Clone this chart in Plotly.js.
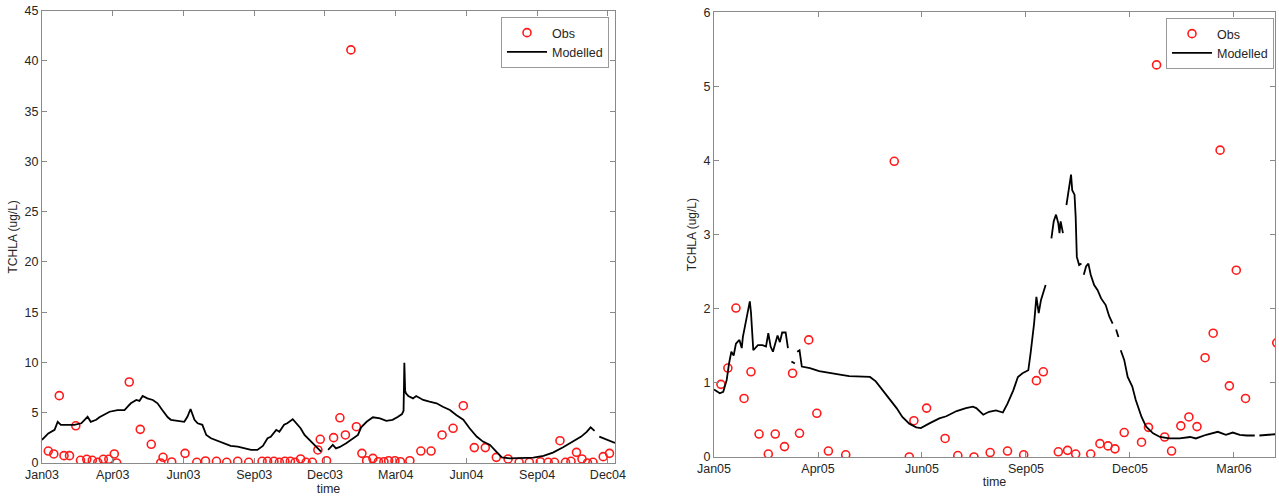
<!DOCTYPE html>
<html>
<head>
<meta charset="utf-8">
<script src="https://cdn.plot.ly/plotly-3.0.1.min.js"></script>
<style>
  html, body { margin: 0; padding: 0; background: #ffffff; }
  #chart { width: 1279px; height: 497px; }
</style>
</head>
<body>
<div id="chart"></div>
<script>
// ---- Station 1: 2003-2004 ----
const obs1Dates = [
  '2003-01-09','2003-01-16','2003-01-23','2003-01-29','2003-02-05','2003-02-13','2003-02-19','2003-02-27',
  '2003-03-06','2003-03-13','2003-03-20','2003-03-27','2003-04-03','2003-04-06','2003-04-22','2003-05-06',
  '2003-05-20','2003-06-01','2003-06-04','2003-06-15','2003-07-02','2003-07-17','2003-07-28','2003-08-11',
  '2003-08-24','2003-09-07','2003-09-21','2003-10-08','2003-10-15','2003-10-23','2003-10-30','2003-11-06',
  '2003-11-13','2003-11-19','2003-11-26','2003-12-03','2003-12-11','2003-12-18','2003-12-21','2003-12-29',
  '2004-01-07','2004-01-15','2004-01-22','2004-01-29','2004-02-05','2004-02-12','2004-02-18','2004-02-26',
  '2004-03-04','2004-03-11','2004-03-17','2004-03-25','2004-04-01','2004-04-13','2004-04-27','2004-05-10',
  '2004-05-24','2004-06-07','2004-06-20','2004-07-04','2004-07-18','2004-08-01','2004-08-16','2004-08-30',
  '2004-09-12','2004-09-26','2004-10-06','2004-10-14','2004-10-21','2004-10-28','2004-11-04','2004-11-11',
  '2004-11-18','2004-11-25','2004-12-02','2004-12-15','2004-12-23'
];
const obs1Vals = [
  1.19, 0.90, 6.70, 0.73, 0.73, 3.70, 0.27, 0.37,
  0.27, 0.07, 0.37, 0.37, 0.90, 0.00, 8.06, 3.35,
  1.86, 0.00, 0.57, 0.10, 0.96, 0.07, 0.20, 0.17,
  0.07, 0.17, 0.07, 0.17, 0.17, 0.17, 0.07, 0.17,
  0.17, 0.07, 0.40, 0.07, 0.07, 1.30, 2.36, 0.23,
  2.52, 4.50, 2.79, 41.1, 3.61, 0.96, 0.23, 0.46,
  0.13, 0.13, 0.23, 0.23, 0.13, 0.23, 1.19, 1.19,
  2.79, 3.45, 5.70, 1.53, 1.53, 0.56, 0.40, 0.07,
  0.07, 0.13, 0.07, 0.07, 2.22, 0.07, 0.17, 1.06,
  0.40, 0.00, 0.07, 0.63, 0.96
];

const mod1Dates = [
  '2003-01-01','2003-01-09','2003-01-17','2003-01-21','2003-01-25','2003-02-03','2003-02-11','2003-02-20',
  '2003-02-24','2003-02-28','2003-03-04','2003-03-11','2003-03-15','2003-03-21','2003-03-28','2003-04-07',
  '2003-04-16','2003-04-20','2003-04-24','2003-05-01','2003-05-05','2003-05-09','2003-05-15','2003-05-22',
  '2003-05-28','2003-06-03','2003-06-10','2003-06-14','2003-06-23','2003-07-01','2003-07-05','2003-07-09',
  '2003-07-14','2003-07-18','2003-07-24','2003-07-29','2003-08-04','2003-08-12','2003-08-21','2003-08-29',
  '2003-09-07','2003-09-15','2003-09-24','2003-10-02','2003-10-09','2003-10-15','2003-10-19','2003-10-26',
  '2003-10-30','2003-11-05','2003-11-09','2003-11-16','2003-11-20','2003-11-26','2003-12-01','2003-12-09',
  '2003-12-18','2003-12-22','2003-12-25','2003-12-31','2004-01-06','2004-01-10','2004-01-15','2004-01-23',
  '2004-02-01','2004-02-07','2004-02-11','2004-02-18','2004-02-26','2004-03-06','2004-03-14','2004-03-22',
  '2004-03-29','2004-04-03','2004-04-05','2004-04-06','2004-04-07','2004-04-08','2004-04-11','2004-04-17',
  '2004-04-21','2004-04-30','2004-05-08','2004-05-17','2004-05-25','2004-06-03','2004-06-11','2004-06-20',
  '2004-06-28','2004-07-07','2004-07-15','2004-07-24','2004-08-01','2004-08-08','2004-08-18','2004-08-31',
  '2004-09-17','2004-09-30','2004-10-12','2004-10-25','2004-11-07','2004-11-17','2004-11-24','2004-11-29',
  '2004-12-04','2004-12-07','2004-12-10','2004-12-19','2004-12-30'
];
const mod1Vals = [
  2.30, 2.95, 3.30, 4.10, 3.80, 3.80, 3.80, 3.95,
  4.30, 4.60, 4.10, 4.30, 4.55, 4.80, 5.10, 5.27,
  5.27, 5.60, 5.94, 6.27, 6.17, 6.67, 6.43, 6.27,
  5.94, 5.27, 4.55, 4.30, 4.20, 4.10, 4.60, 5.37,
  4.30, 3.95, 3.80, 2.79, 2.46, 2.23, 1.96, 1.70,
  1.63, 1.46, 1.30, 1.30, 1.70, 2.46, 2.60, 3.30,
  3.10, 3.80, 3.95, 4.35, 3.95, 3.46, 2.79, 2.13,
  1.46, 1.13, null, 1.30, 1.80, 1.46, 1.60, 1.96,
  2.46, 2.79, 3.55, 4.10, 4.55, 4.44, 4.20, 4.30,
  4.60, 4.87, 5.20, 9.98, 7.20, 6.93, 6.67, 6.43,
  6.67, 6.27, 6.10, 5.94, 5.60, 5.27, 4.77, 4.30,
  3.46, 2.63, 2.13, 1.80, 1.13, 0.56, 0.46, 0.46,
  0.53, 0.70, 1.03, 1.56, 2.13, 2.63, 3.10, 3.55,
  3.20, null, 2.63, 2.36, 2.00
];

const tick1Dates = ['2003-01-01','2003-04-01','2003-06-30','2003-09-28','2003-12-27',
                    '2004-03-26','2004-06-24','2004-09-22','2004-12-21'];
const tick1Labels = ['Jan03','Apr03','Jun03','Sep03','Dec03','Mar04','Jun04','Sep04','Dec04'];
const yTicks1 = [0, 5, 10, 15, 20, 25, 30, 35, 40, 45];

// ---- Station 2: 2005-2006 ----
const obs2Dates = [
  '2005-01-07','2005-01-13','2005-01-20','2005-01-27','2005-02-02','2005-02-09','2005-02-17','2005-02-23',
  '2005-03-03','2005-03-10','2005-03-16','2005-03-24','2005-03-31','2005-04-10','2005-04-25','2005-06-06',
  '2005-06-19','2005-06-23','2005-07-04','2005-07-20','2005-07-31','2005-08-14','2005-08-28','2005-09-12',
  '2005-09-26','2005-10-07','2005-10-13','2005-10-26','2005-11-03','2005-11-10','2005-11-23','2005-12-01',
  '2005-12-08','2005-12-14','2005-12-22','2006-01-06','2006-01-12','2006-01-19','2006-01-26','2006-02-01',
  '2006-02-09','2006-02-16','2006-02-23','2006-03-02','2006-03-09','2006-03-15','2006-03-23','2006-03-29',
  '2006-04-06','2006-05-03'
];
const obs2Vals = [
  0.98, 1.20, 2.01, 0.79, 1.15, 0.31, 0.04, 0.31,
  0.14, 1.13, 0.32, 1.58, 0.59, 0.08, 0.03, 3.99,
  0.00, 0.49, 0.66, 0.25, 0.02, 0.00, 0.06, 0.08,
  0.03, 1.03, 1.15, 0.07, 0.09, 0.04, 0.04, 0.18,
  0.15, 0.11, 0.33, 0.20, 0.40, 5.29, 0.27, 0.08,
  0.42, 0.54, 0.41, 1.34, 1.67, 4.14, 0.96, 2.52,
  0.79, 1.54
];

const mod2Dates = [
  '2005-01-01','2005-01-06','2005-01-09','2005-01-12','2005-01-14','2005-01-16','2005-01-18','2005-01-20',
  '2005-01-23','2005-01-25','2005-01-26','2005-01-29','2005-02-01','2005-02-02','2005-02-04','2005-02-08',
  '2005-02-12','2005-02-15','2005-02-17','2005-02-19','2005-02-21','2005-02-23','2005-02-25','2005-02-27',
  '2005-03-01','2005-03-04','2005-03-06','2005-03-07','2005-03-09','2005-03-12','2005-03-13','2005-03-14',
  '2005-03-16','2005-03-18','2005-03-25','2005-04-02','2005-04-11','2005-04-20','2005-04-28','2005-05-10',
  '2005-05-16','2005-05-21','2005-05-27','2005-06-02','2005-06-08','2005-06-13','2005-06-19','2005-06-25',
  '2005-06-29','2005-07-06','2005-07-15','2005-07-21','2005-07-30','2005-08-07','2005-08-13','2005-08-16',
  '2005-08-22','2005-08-27','2005-09-02','2005-09-08','2005-09-12','2005-09-17','2005-09-21','2005-09-25',
  '2005-09-30','2005-10-02','2005-10-05','2005-10-07','2005-10-09','2005-10-11','2005-10-15','2005-10-17',
  '2005-10-20','2005-10-22','2005-10-24','2005-10-26','2005-10-27','2005-10-28','2005-10-30','2005-10-31',
  '2005-11-02','2005-11-04','2005-11-06','2005-11-07','2005-11-09','2005-11-10','2005-11-11','2005-11-13',
  '2005-11-15','2005-11-16','2005-11-17','2005-11-19','2005-11-21','2005-11-23','2005-11-26','2005-11-29',
  '2005-12-02','2005-12-06','2005-12-09','2005-12-12','2005-12-14','2005-12-15','2005-12-17','2005-12-18',
  '2005-12-19','2005-12-22','2005-12-25','2005-12-29','2006-01-01','2006-01-06','2006-01-10','2006-01-16',
  '2006-01-22','2006-01-30','2006-02-08','2006-02-17','2006-02-22','2006-03-03','2006-03-13','2006-03-20',
  '2006-03-26','2006-04-01','2006-04-07','2006-04-14','2006-04-15','2006-04-18','2006-04-27','2006-05-04'
];
const mod2Vals = [
  0.91, 0.86, 0.88, 1.04, 1.26, 1.42, 1.37, 1.53,
  1.58, 1.47, 1.62, 1.85, 2.10, 1.95, 1.44, 1.51,
  1.51, 1.49, 1.67, 1.49, 1.42, 1.53, 1.64, 1.55,
  1.68, 1.68, 1.47, null, 1.29, 1.26, null, 1.42,
  1.44, 1.22, 1.20, 1.16, 1.13, 1.11, 1.09, 1.09,
  1.08, 1.02, 0.90, 0.79, 0.66, 0.54, 0.45, 0.40,
  0.39, 0.45, 0.52, 0.55, 0.62, 0.66, 0.68, 0.66,
  0.57, 0.61, 0.63, 0.60, 0.72, 0.90, 1.08, 1.13,
  1.17, 1.40, 1.80, 2.16, 1.94, 2.12, 2.32, null,
  2.95, 3.18, 3.27, 3.15, 3.02, 3.18, 3.02, null,
  3.40, 3.60, 3.81, 3.60, 3.54, 3.24, 2.70, 2.59,
  2.61, null, 2.46, 2.57, 2.61, 2.46, 2.32, 2.25,
  2.14, 2.05, 1.90, 1.80, null, 1.72, 1.62, null,
  1.44, 1.31, 1.08, 0.95, 0.77, 0.54, 0.41, 0.32,
  0.27, 0.25, 0.25, 0.27, 0.25, 0.30, 0.34, 0.30,
  0.33, 0.30, 0.29, 0.29, null, 0.29, 0.30, 0.31
];

const tick2Dates = ['2005-01-01','2005-04-01','2005-06-30','2005-09-28','2005-12-27','2006-03-27'];
const tick2Labels = ['Jan05','Apr05','Jun05','Sep05','Dec05','Mar06'];
const yTicks2 = [0, 1, 2, 3, 4, 5, 6];

// ---- Drawing ----
const W = 1279, H = 497;
const FONT = 'Liberation Sans, Arial, sans-serif';
const TEXT = '#262626';
const FRAME = '#8a8a8a';

const obsStyle = { symbol: 'circle-open', size: 8, color: '#ff1a1a', line: { width: 1.6, color: '#ff1a1a' } };
const modStyle = { color: '#000000', width: 1.8 };

const traces = [
  { x: obs1Dates, y: obs1Vals, type: 'scatter', mode: 'markers', name: 'Obs',
    marker: obsStyle, xaxis: 'x', yaxis: 'y', legend: 'legend' },
  { x: mod1Dates, y: mod1Vals, type: 'scatter', mode: 'lines', name: 'Modelled',
    line: modStyle, connectgaps: false, xaxis: 'x', yaxis: 'y', legend: 'legend' },
  { x: obs2Dates, y: obs2Vals, type: 'scatter', mode: 'markers', name: 'Obs',
    marker: obsStyle, xaxis: 'x2', yaxis: 'y2', legend: 'legend2' },
  { x: mod2Dates, y: mod2Vals, type: 'scatter', mode: 'lines', name: 'Modelled',
    line: modStyle, connectgaps: false, xaxis: 'x2', yaxis: 'y2', legend: 'legend2' }
];

function xAxis(domain, range, vals, labels, anchor) {
  return {
    domain: domain, range: range, type: 'date', anchor: anchor,
    tickmode: 'array', tickvals: vals, ticktext: labels,
    ticks: 'inside', ticklen: 5, tickcolor: FRAME, tickwidth: 1,
    showline: true, linecolor: FRAME, linewidth: 1, mirror: 'ticks',
    showgrid: false, zeroline: false,
    tickfont: { family: FONT, size: 12.5, color: TEXT },
    title: { text: 'time', font: { family: FONT, size: 12.5, color: TEXT }, standoff: 2 }
  };
}
function yAxis(domain, range, vals, anchor) {
  return {
    domain: domain, range: range, anchor: anchor,
    tickmode: 'array', tickvals: vals,
    ticks: 'inside', ticklen: 5, tickcolor: FRAME, tickwidth: 1,
    showline: true, linecolor: FRAME, linewidth: 1, mirror: 'ticks',
    showgrid: false, zeroline: false,
    tickfont: { family: FONT, size: 12.5, color: TEXT },
    title: { text: 'TCHLA (ug/L)', font: { family: FONT, size: 12, color: TEXT }, standoff: 4 }
  };
}

const legendBase = {
  bgcolor: '#ffffff', bordercolor: '#999999', borderwidth: 1,
  font: { family: FONT, size: 12.5, color: TEXT },
  xanchor: 'left', yanchor: 'top', tracegroupgap: 0, itemwidth: 40
};

const layout = {
  width: W, height: H,
  margin: { l: 0, r: 0, t: 0, b: 0 },
  paper_bgcolor: '#ffffff', plot_bgcolor: '#ffffff',
  showlegend: true,
  xaxis: xAxis([42 / W, 615 / W], ['2003-01-01', '2004-12-30'], tick1Dates, tick1Labels, 'y'),
  yaxis: yAxis([1 - 463 / H, 1 - 10.7 / H], [0, 45], yTicks1, 'x'),
  xaxis2: xAxis([714 / W, 1275 / W], ['2005-01-01', '2006-05-01 12:00'], tick2Dates, tick2Labels, 'y2'),
  yaxis2: yAxis([1 - 457 / H, 1 - 12.3 / H], [0, 6], yTicks2, 'x2'),
  legend: Object.assign({}, legendBase, { x: 501 / W, y: 1 - 17 / H }),
  legend2: Object.assign({}, legendBase, { x: 1166 / W, y: 1 - 18 / H })
};

Plotly.newPlot('chart', traces, layout, { displayModeBar: false, staticPlot: true });
</script>
</body>
</html>
